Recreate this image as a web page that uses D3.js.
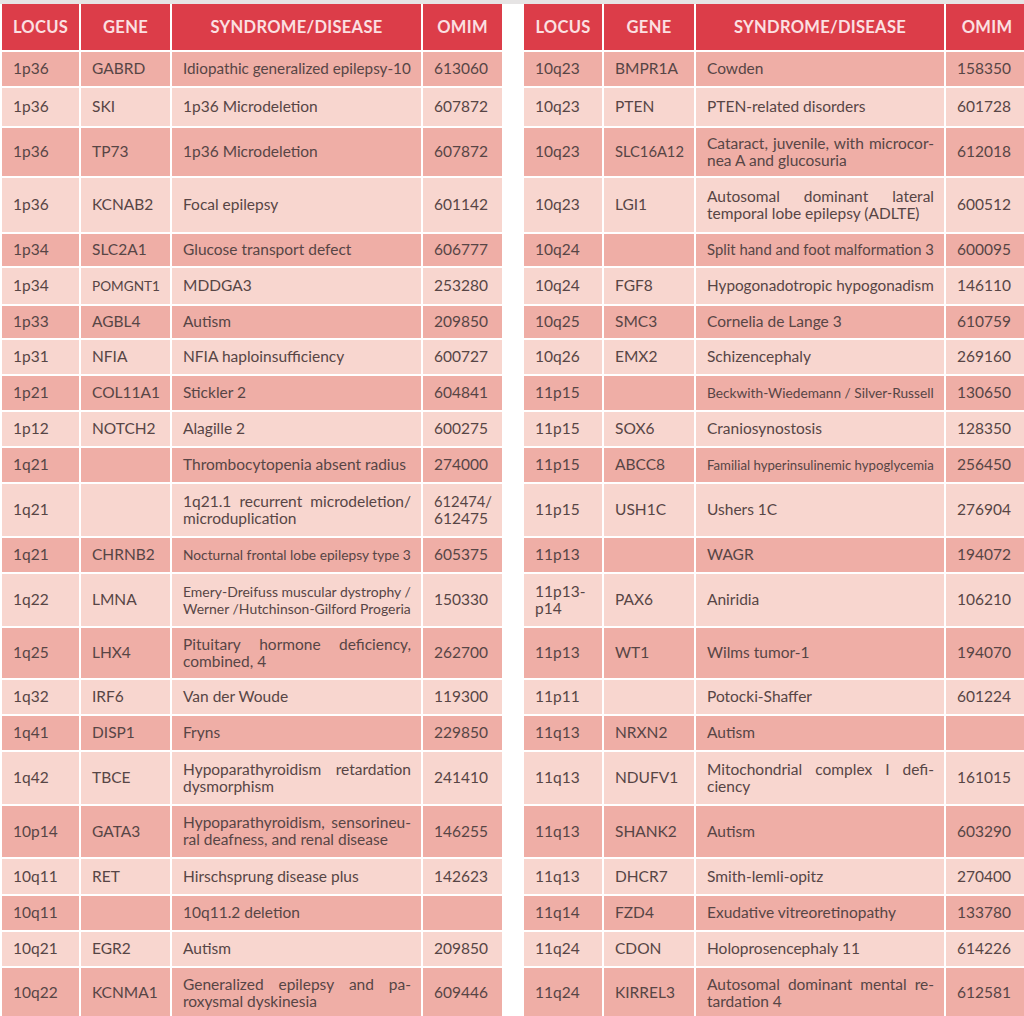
<!DOCTYPE html>
<html>
<head>
<meta charset="utf-8">
<script src="https://cdn.jsdelivr.net/npm/d3@7"></script>
<style>
  body { margin: 0; background: #fff; }
  svg { display: block; }
</style>
</head>
<body>
<div id="chart"></div>
<script>
// column titles (same for both halves)
const headers = ["LOCUS", "GENE", "SYNDROME/DISEASE", "OMIM"];

// left half
const leftLocus = ["1p36", "1p36", "1p36", "1p36", "1p34", "1p34", "1p33", "1p31", "1p21", "1p12",
  "1q21", "1q21", "1q21", "1q22", "1q25", "1q32", "1q41", "1q42", "10p14", "10q11", "10q11", "10q21", "10q22"];
const leftGene = ["GABRD", "SKI", "TP73", "KCNAB2", "SLC2A1", "POMGNT1", "AGBL4", "NFIA", "COL11A1", "NOTCH2",
  "", "", "CHRNB2", "LMNA", "LHX4", "IRF6", "DISP1", "TBCE", "GATA3", "RET", "", "EGR2", "KCNMA1"];
const leftDisease = [
  "Idiopathic generalized epilepsy-10",
  "1p36 Microdeletion",
  "1p36 Microdeletion",
  "Focal epilepsy",
  "Glucose transport defect",
  "MDDGA3",
  "Autism",
  "NFIA haploinsufficiency",
  "Stickler 2",
  "Alagille 2",
  "Thrombocytopenia absent radius",
  "1q21.1 recurrent microdeletion/\nmicroduplication",
  "Nocturnal frontal lobe epilepsy type 3",
  "Emery-Dreifuss muscular dystrophy /\nWerner /Hutchinson-Gilford Progeria",
  "Pituitary hormone deficiency,\ncombined, 4",
  "Van der Woude",
  "Fryns",
  "Hypoparathyroidism retardation\ndysmorphism",
  "Hypoparathyroidism, sensorineu-\nral deafness, and renal disease",
  "Hirschsprung disease plus",
  "10q11.2 deletion",
  "Autism",
  "Generalized epilepsy and pa-\nroxysmal dyskinesia"
];
const leftOmim = ["613060", "607872", "607872", "601142", "606777", "253280", "209850", "600727", "604841", "600275",
  "274000", "612474/\n612475", "605375", "150330", "262700", "119300", "229850", "241410", "146255", "142623",
  "", "209850", "609446"];

// right half
const rightLocus = ["10q23", "10q23", "10q23", "10q23", "10q24", "10q24", "10q25", "10q26", "11p15", "11p15",
  "11p15", "11p15", "11p13", "11p13-\np14", "11p13", "11p11", "11q13", "11q13", "11q13", "11q13", "11q14", "11q24", "11q24"];
const rightGene = ["BMPR1A", "PTEN", "SLC16A12", "LGI1", "", "FGF8", "SMC3", "EMX2", "", "SOX6",
  "ABCC8", "USH1C", "", "PAX6", "WT1", "", "NRXN2", "NDUFV1", "SHANK2", "DHCR7", "FZD4", "CDON", "KIRREL3"];
const rightDisease = [
  "Cowden",
  "PTEN-related disorders",
  "Cataract, juvenile, with microcor-\nnea A and glucosuria",
  "Autosomal dominant lateral\ntemporal lobe epilepsy (ADLTE)",
  "Split hand and foot malformation 3",
  "Hypogonadotropic hypogonadism",
  "Cornelia de Lange 3",
  "Schizencephaly",
  "Beckwith-Wiedemann / Silver-Russell",
  "Craniosynostosis",
  "Familial hyperinsulinemic hypoglycemia",
  "Ushers 1C",
  "WAGR",
  "Aniridia",
  "Wilms tumor-1",
  "Potocki-Shaffer",
  "Autism",
  "Mitochondrial complex I defi-\nciency",
  "Autism",
  "Smith-lemli-opitz",
  "Exudative vitreoretinopathy",
  "Holoprosencephaly 11",
  "Autosomal dominant mental re-\ntardation 4"
];
const rightOmim = ["158350", "601728", "612018", "600512", "600095", "146110", "610759", "269160", "130650", "128350",
  "256450", "276904", "194072", "106210", "194070", "601224", "", "161015", "603290", "270400", "133780", "614226", "612581"];

// layout
const width = 1024, height = 1016;
const gap = 2;
const headerTop = 4, headerH = 46;
const rowPitch = [36, 40, 50, 56, 34, 38, 34, 36, 36, 36, 36, 54, 36, 54, 52, 36, 36, 54, 53, 37, 36, 36, 52];
const fontSize = 15.5, lineH = 17, pad = 11;

const rowIdx = d3.range(rowPitch.length);
const firstTop = headerTop + headerH + gap;
const tops = [firstTop, ...Array.from(d3.cumsum(rowPitch)).map(c => firstTop + c)];
const y = d3.scaleOrdinal().domain(rowIdx).range(tops);
const rowH = i => rowPitch[i] - gap;

const tables = [
  { edges: [2, 81, 172, 423, 504], cols: [leftLocus, leftGene, leftDisease, leftOmim] },
  { edges: [524, 604, 696, 946, 1030], cols: [rightLocus, rightGene, rightDisease, rightOmim] }
];

const svg = d3.select("#chart").append("svg")
  .attr("width", width)
  .attr("height", height)
  .style("font-family", "Lato, 'Open Sans', sans-serif");

svg.append("rect").attr("width", width).attr("height", 4).attr("fill", "#e6e4e4");

function drawCellText(g, str, x0, w, top, h, justify) {
  const lines = str.split("\n");
  const avail = w - pad * 2 + 1;
  const cy = top + h / 2;
  lines.forEach((line, k) => {
    const base = cy - (lines.length - 1) * lineH / 2 + k * lineH + fontSize * 0.34;
    const t = g.append("text")
      .attr("x", x0 + pad)
      .attr("y", base)
      .attr("font-size", fontSize)
      .attr("fill", "#574545")
      .text(line);
    const natural = t.node().getComputedTextLength();
    if (natural > avail) {
      // too long for the cell: shrink it to fit
      t.attr("font-size", fontSize * avail / natural);
    } else if (justify && k < lines.length - 1) {
      const words = line.split(" ");
      if (words.length < 2) return;
      t.text(null);
      const spans = words.map(wd => t.append("tspan").text(wd));
      const ws = spans.map(s => s.node().getComputedTextLength());
      const extra = (avail - d3.sum(ws)) / (words.length - 1);
      let cx = x0 + pad;
      spans.forEach((s, j) => { s.attr("x", cx); cx += ws[j] + extra; });
    }
  });
}

tables.forEach(tb => {
  const x = d3.scaleOrdinal().domain(headers).range(tb.edges.slice(0, 4));
  const cw = c => tb.edges[headers.indexOf(c) + 1] - tb.edges[headers.indexOf(c)] - gap;
  const g = svg.append("g");

  // header
  headers.forEach(c => {
    g.append("rect")
      .attr("x", x(c)).attr("y", headerTop)
      .attr("width", cw(c)).attr("height", headerH)
      .attr("fill", "#dc3d49");
    g.append("text")
      .attr("x", x(c) + cw(c) / 2)
      .attr("y", headerTop + headerH / 2 + 6)
      .attr("text-anchor", "middle")
      .attr("font-size", 16.5)
      .attr("font-weight", "bold")
      .attr("letter-spacing", 0.3)
      .attr("fill", "#fbe0e2")
      .text(c);
  });

  // body
  rowIdx.forEach(i => {
    const fill = i % 2 === 0 ? "#efaea6" : "#f8d6cf";
    headers.forEach((c, ci) => {
      g.append("rect")
        .attr("x", x(c)).attr("y", y(i))
        .attr("width", cw(c)).attr("height", rowH(i))
        .attr("fill", fill);
      drawCellText(g, tb.cols[ci][i], x(c), cw(c), y(i), rowH(i), ci === 2);
    });
  });
});
</script>
</body>
</html>
